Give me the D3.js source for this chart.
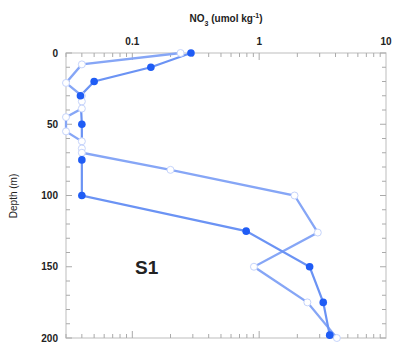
<!DOCTYPE html>
<html>
<head>
<meta charset="utf-8">
<script src="https://cdn.jsdelivr.net/npm/d3@7"></script>
<style>
  body { margin: 0; background: #fff; }
  text { font-family: "Liberation Sans", Arial, sans-serif; fill: #222; }
</style>
</head>
<body>
<div id="myPlot"></div>
<script>
// Set Dimensions
const W = 395, H = 342;
const margin = {top: 53, right: 9, bottom: 4, left: 66};
const xMax = W - margin.left - margin.right;
const yMax = H - margin.top - margin.bottom;

// data: depth (m) and NO3 (umol/kg)
const depthFilled = [0, 10, 20, 30, 50, 75, 100, 125, 150, 175, 198];
const no3Filled   = [0.29, 0.14, 0.05, 0.039, 0.04, 0.04, 0.04, 0.79, 2.5, 3.2, 3.6];

const depthOpen = [0, 8, 21, 30, 34, 39, 45, 55, 62, 67, 70, 82, 100, 126, 150, 175, 200];
const no3Open   = [0.24, 0.04, 0.03, 0.04, 0.04, 0.04, 0.03, 0.03, 0.04, 0.04, 0.04, 0.2, 1.9, 2.9, 0.91, 2.4, 4.1];

const xTickLabels = [0.1, 1, 10];
const yTickLabels = [0, 50, 100, 150, 200];

const svg = d3.select("#myPlot")
  .append("svg")
  .attr("width", W)
  .attr("height", H);

const g = svg.append("g")
  .attr("transform", "translate(" + margin.left + "," + margin.top + ")");

// Scales
const x = d3.scaleLog().domain([0.03, 10]).range([0, xMax]);
const y = d3.scaleLinear().domain([0, 200]).range([0, yMax]);

// minor log ticks
const xMinor = [];
[0.01, 0.1, 1].forEach(function(b) {
  for (let k = 1; k <= 9; k++) {
    const v = b * k;
    if (v >= 0.03 && v <= 10) xMinor.push(v);
  }
});
const yMinor = d3.range(0, 201, 10);

// frame
g.append("rect")
  .attr("width", xMax).attr("height", yMax)
  .attr("fill", "none").attr("stroke", "#c8c8c8").attr("stroke-width", 1.2);

// ticks (inside)
function tickLen(v) { return xTickLabels.indexOf(v) >= 0 ? 7 : 4; }
g.append("g").selectAll("line").data(xMinor).enter().append("line")
  .attr("x1", d => x(d)).attr("x2", d => x(d))
  .attr("y1", yMax).attr("y2", d => yMax - tickLen(+d.toPrecision(1)))
  .attr("stroke", "#aaa");
g.append("g").selectAll("line").data(xMinor).enter().append("line")
  .attr("x1", d => x(d)).attr("x2", d => x(d))
  .attr("y1", 0).attr("y2", d => tickLen(+d.toPrecision(1)))
  .attr("stroke", "#aaa");
g.append("g").selectAll("line").data(yMinor).enter().append("line")
  .attr("y1", d => y(d)).attr("y2", d => y(d))
  .attr("x1", 0).attr("x2", d => d % 50 === 0 ? 6 : 4)
  .attr("stroke", "#aaa");
g.append("g").selectAll("line").data(yMinor).enter().append("line")
  .attr("y1", d => y(d)).attr("y2", d => y(d))
  .attr("x1", xMax).attr("x2", d => xMax - (d % 50 === 0 ? 6 : 4))
  .attr("stroke", "#aaa");

// tick labels
g.append("g").selectAll("text").data(xTickLabels).enter().append("text")
  .attr("x", d => x(d)).attr("y", -8)
  .attr("text-anchor", "middle")
  .style("font-size", "10px").style("font-weight", "bold")
  .text(d => d);
g.append("g").selectAll("text").data(yTickLabels).enter().append("text")
  .attr("x", -8).attr("y", d => y(d) + 3.5)
  .attr("text-anchor", "end")
  .style("font-size", "10px").style("font-weight", "bold")
  .text(d => d);

// axis titles
const title = svg.append("text")
  .attr("x", 226).attr("y", 22)
  .attr("text-anchor", "middle")
  .style("font-size", "10px").style("font-weight", "bold");
title.append("tspan").text("NO");
title.append("tspan").attr("dy", 4).style("font-size", "7px").text("3");
title.append("tspan").attr("dy", -4).text(" (umol kg");
title.append("tspan").attr("dy", -4).style("font-size", "7px").text("-1");
title.append("tspan").attr("dy", 4).text(")");

svg.append("text")
  .attr("transform", "translate(17,196) rotate(-90)")
  .attr("text-anchor", "middle")
  .style("font-size", "10px")
  .text("Depth (m)");

g.append("text")
  .attr("x", 69).attr("y", y(150) + 7)
  .style("font-size", "19px").style("font-weight", "bold")
  .text("S1");

// series
const openData = depthOpen.map((d, i) => [no3Open[i], d]);
const filledData = depthFilled.map((d, i) => [no3Filled[i], d]);
const line = d3.line().x(d => x(d[0])).y(d => y(d[1]));

g.append("path").datum(openData)
  .attr("d", line).attr("fill", "none")
  .attr("stroke", "#86a6f6").attr("stroke-width", 2.3);
g.append("path").datum(filledData)
  .attr("d", line).attr("fill", "none")
  .attr("stroke", "#6b93f4").attr("stroke-width", 2.2);

g.append("g").selectAll("circle").data(openData).enter().append("circle")
  .attr("cx", d => x(d[0])).attr("cy", d => y(d[1])).attr("r", 3.5)
  .attr("fill", "#fff").attr("stroke", "#c6d4fb").attr("stroke-width", 1);
g.append("g").selectAll("circle").data(filledData).enter().append("circle")
  .attr("cx", d => x(d[0])).attr("cy", d => y(d[1])).attr("r", 3.8)
  .attr("fill", "#1f5cf5");
</script>
</body>
</html>
